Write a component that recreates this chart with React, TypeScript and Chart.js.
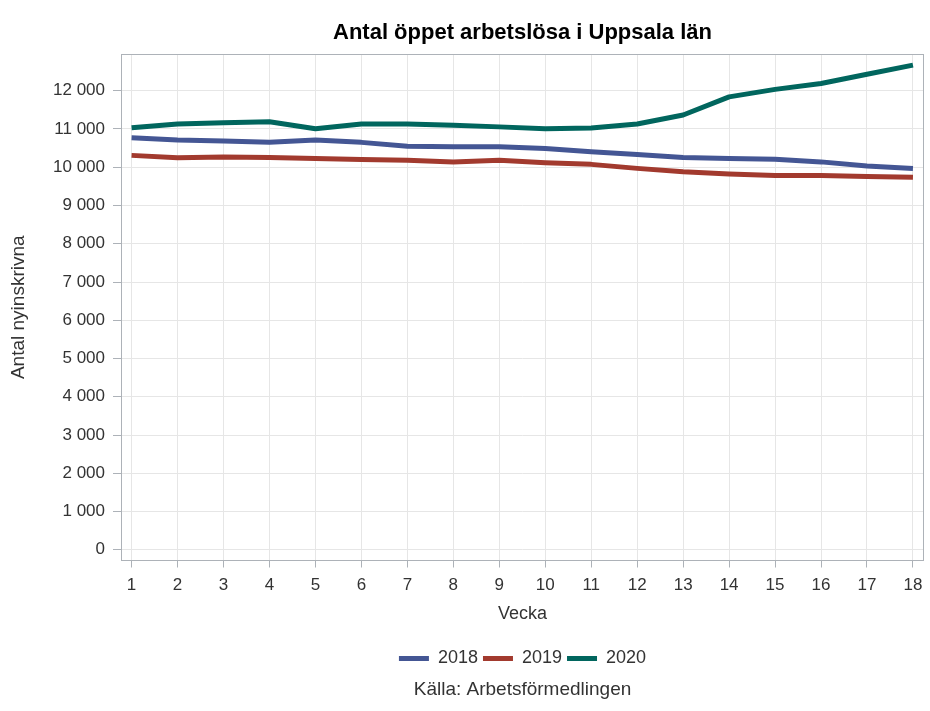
import React, { useEffect, useRef } from 'react';
import { Chart, registerables } from 'chart.js';

Chart.register(...registerables);

const chartTitle = 'Antal öppet arbetslösa i Uppsala län';
const sourceText = 'Källa: Arbetsförmedlingen';
const xAxisTitle = 'Vecka';
const yAxisTitle = 'Antal nyinskrivna';

const weeks = [1, 2, 3, 4, 5, 6, 7, 8, 9, 10, 11, 12, 13, 14, 15, 16, 17, 18];
const seriesNames = ['2018', '2019', '2020'];
const values2018 = [10770, 10710, 10685, 10650, 10710, 10650, 10550, 10535, 10535, 10490, 10405, 10335, 10255, 10230, 10210, 10140, 10035, 9970];
const values2019 = [10310, 10245, 10270, 10255, 10230, 10205, 10180, 10140, 10185, 10120, 10075, 9970, 9880, 9820, 9785, 9785, 9760, 9735];
const values2020 = [11030, 11130, 11160, 11190, 11005, 11130, 11130, 11100, 11055, 11005, 11025, 11130, 11365, 11840, 12035, 12190, 12430, 12670];
const yTickValues = [0, 1000, 2000, 3000, 4000, 5000, 6000, 7000, 8000, 9000, 10000, 11000, 12000];
const seriesColors = ['#445694', '#A23A2E', '#01665E'];

const FONT = "'Liberation Sans', Arial, sans-serif";
const TEXT = '#333333';
const GRID = '#e6e6e6';
const FRAME = '#adb2b8';

function fmt(v: number): string {
  const s = String(Math.round(v));
  return s.replace(/\B(?=(\d{3})+(?!\d))/g, ' ');
}

const framePlugin = {
  id: 'frame',
  afterDatasetsDraw(chart: any) {
    const { ctx, chartArea } = chart;
    ctx.save();
    ctx.strokeStyle = FRAME;
    ctx.lineWidth = 1;
    ctx.strokeRect(
      Math.round(chartArea.left) + 0.5,
      Math.round(chartArea.top) + 0.5,
      Math.round(chartArea.right - chartArea.left) - 1,
      Math.round(chartArea.bottom - chartArea.top) - 1
    );
    ctx.restore();
  },
};

export default function App() {
  const ref = useRef<HTMLCanvasElement | null>(null);

  useEffect(() => {
    if (!ref.current) return;
    const allValues = [values2018, values2019, values2020];
    const chart = new Chart(ref.current, {
      type: 'line',
      data: {
        datasets: seriesNames.map((name, i) => ({
          label: name,
          data: weeks.map((w, j) => ({ x: w, y: allValues[i][j] })),
          borderColor: seriesColors[i],
          backgroundColor: seriesColors[i],
          borderWidth: 5,
          pointRadius: 0,
          tension: 0,
          borderJoinStyle: 'round' as const,
          fill: false,
        })),
      },
      options: {
        animation: false,
        responsive: false,
        devicePixelRatio: 1,
        layout: { padding: { top: 0, left: 0, right: 6, bottom: 9.6 } },
        font: { family: FONT, size: 17 },
        color: TEXT,
        scales: {
          x: {
            type: 'linear',
            min: 0.77,
            max: 18.24,
            afterBuildTicks: (scale: any) => {
              scale.ticks = weeks.map((w) => ({ value: w }));
            },
            afterFit: (scale: any) => {
              scale.height = 84;
            },
            ticks: {
              color: TEXT,
              font: { family: FONT, size: 17 },
              padding: 7.5,
              maxRotation: 0,
              autoSkip: false,
              callback: (v: any) => String(v),
            },
            grid: { color: GRID, tickColor: FRAME, tickLength: 7, drawTicks: true },
            border: { display: false },
            title: {
              display: true,
              text: xAxisTitle,
              color: TEXT,
              font: { family: FONT, size: 18 },
              padding: { top: 0, bottom: 20 },
            },
          },
          y: {
            type: 'linear',
            min: -280,
            max: 12960,
            afterBuildTicks: (scale: any) => {
              scale.ticks = yTickValues.map((v) => ({ value: v }));
            },
            afterFit: (scale: any) => {
              scale.width = 121;
            },
            ticks: {
              color: TEXT,
              font: { family: FONT, size: 17 },
              padding: 8,
              callback: (v: any) => fmt(Number(v)),
            },
            grid: { color: GRID, tickColor: FRAME, tickLength: 8, drawTicks: true },
            border: { display: false },
            title: {
              display: true,
              text: yAxisTitle,
              color: TEXT,
              font: { family: FONT, size: 19 },
              padding: { top: 7, bottom: 0 },
            },
          },
        },
        plugins: {
          title: {
            display: true,
            text: chartTitle,
            fullSize: false,
            color: '#000000',
            font: { family: FONT, size: 22, weight: 'bold' },
            padding: { top: 19.8, bottom: 7.8 },
          },
          subtitle: {
            display: true,
            text: sourceText,
            position: 'bottom',
            fullSize: false,
            color: TEXT,
            font: { family: FONT, size: 19, weight: 'normal' },
            padding: { top: 1.1, bottom: 0 },
          },
          legend: {
            display: true,
            position: 'bottom',
            fullSize: false,
            labels: {
              color: TEXT,
              font: { family: FONT, size: 18 },
              boxWidth: 30,
              boxHeight: 5,
              padding: 5,
              generateLabels: () =>
                seriesNames.map((name, i) => ({
                  text: name,
                  fillStyle: seriesColors[i],
                  strokeStyle: seriesColors[i],
                  lineWidth: 0,
                  hidden: false,
                  datasetIndex: i,
                  fontColor: TEXT,
                })),
            },
          },
          tooltip: { enabled: false },
        },
      },
      plugins: [framePlugin],
    });
    return () => chart.destroy();
  }, []);

  return (
    <div style={{ position: 'fixed', left: 0, top: 0, width: 930, height: 711, background: '#ffffff' }}>
      <canvas ref={ref} width={930} height={711} style={{ width: 930, height: 711, display: 'block' }} />
    </div>
  );
}
